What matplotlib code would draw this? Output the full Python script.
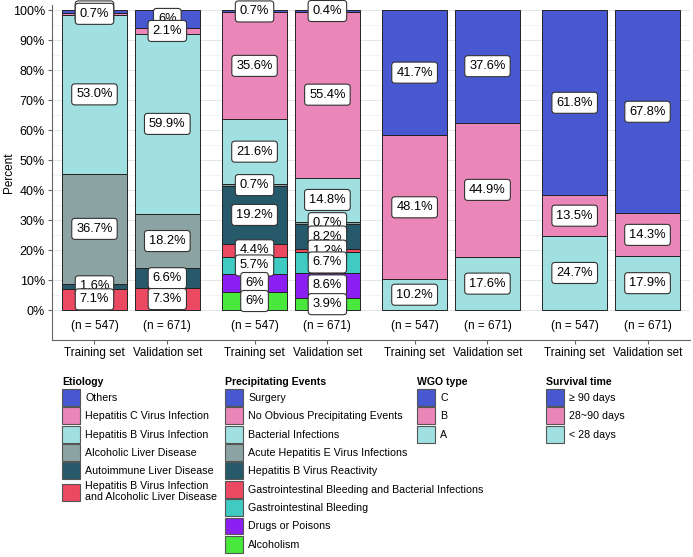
import matplotlib.pyplot as plt
from matplotlib.patches import Patch

plt.rcParams['font.family'] = ['Liberation Sans', 'DejaVu Sans']

sets = ["Training set", "Validation set"]
n_labels = ["(n = 547)", "(n = 671)"]

# stacks listed bottom -> top
etiology_cats = ["Hepatitis B Virus Infection\nand Alcoholic Liver Disease", "Autoimmune Liver Disease",
                 "Alcoholic Liver Disease", "Hepatitis B Virus Infection",
                 "Hepatitis C Virus Infection", "Others"]
etiology_train = [7.1, 1.6, 36.7, 53.0, 0.7, 0.9]
etiology_valid = [7.3, 6.6, 18.2, 59.9, 2.1, 5.9]
etiology_train_lbl = ["7.1%", "1.6%", "36.7%", "53.0%", "0.7%", "0.9%"]
etiology_valid_lbl = ["7.3%", "6.6%", "18.2%", "59.9%", "2.1%", "6%"]

precip_cats = ["Alcoholism", "Drugs or Poisons", "Gastrointestinal Bleeding",
               "Gastrointestinal Bleeding and Bacterial Infections", "Hepatitis B Virus Reactivity",
               "Acute Hepatitis E Virus Infections", "Bacterial Infections",
               "No Obvious Precipitating Events", "Surgery"]
precip_train = [6.0, 6.0, 5.7, 4.4, 19.2, 0.7, 21.6, 35.6, 0.7]
precip_valid = [3.9, 8.6, 6.7, 1.2, 8.2, 0.7, 14.8, 55.4, 0.4]
precip_train_lbl = ["6%", "6%", "5.7%", "4.4%", "19.2%", "0.7%", "21.6%", "35.6%", "0.7%"]
precip_valid_lbl = ["3.9%", "8.6%", "6.7%", "1.2%", "8.2%", "0.7%", "14.8%", "55.4%", "0.4%"]

wgo_cats = ["A", "B", "C"]
wgo_train = [10.2, 48.1, 41.7]
wgo_valid = [17.6, 44.9, 37.6]

surv_cats = ["< 28 days", "28~90 days", "\u2265 90 days"]
surv_train = [24.7, 13.5, 61.8]
surv_valid = [17.9, 14.3, 67.8]

BLUE = "#4858D0"
PINK = "#EA86B8"
LCYAN = "#A0E0E0"
GRAY = "#8CA3A3"
DTEAL = "#265A6B"
RED = "#EB4861"
TEAL = "#3FCAC2"
PURPLE = "#8B1EF0"
GREEN = "#48E83D"

etiology_cols = [RED, DTEAL, GRAY, LCYAN, PINK, BLUE]
precip_cols = [GREEN, PURPLE, TEAL, RED, DTEAL, GRAY, LCYAN, PINK, BLUE]
three_cols = [LCYAN, PINK, BLUE]


def pct(vals):
    return ["%.1f%%" % v for v in vals]


panels = [
    (etiology_cats, etiology_cols, [(etiology_train, etiology_train_lbl), (etiology_valid, etiology_valid_lbl)]),
    (precip_cats, precip_cols, [(precip_train, precip_train_lbl), (precip_valid, precip_valid_lbl)]),
    (wgo_cats, three_cols, [(wgo_train, pct(wgo_train)), (wgo_valid, pct(wgo_valid))]),
    (surv_cats, three_cols, [(surv_train, pct(surv_train)), (surv_valid, pct(surv_valid))]),
]

fig = plt.figure(figsize=(6.93, 5.57), dpi=100)
ax = fig.add_axes([52 / 693, 1 - 340 / 557, 638 / 693, 335 / 557])

bar_w = 1.0
xticks, xlabels = [], []
for gi, (cats, cols, bars) in enumerate(panels):
    for bi, (vals, lbls) in enumerate(bars):
        x = gi * 2.45 + bi * 1.115
        xticks.append(x)
        xlabels.append(sets[bi])
        bottom = 0
        mids = []
        for v, c in zip(vals, cols):
            ax.bar(x, v, bottom=bottom, width=bar_w, color=c, edgecolor="#222222", linewidth=0.7, zorder=2)
            mids.append(bottom + v / 2)
            bottom += v
        # draw from top to bottom so lower labels sit on top
        for m, t in list(zip(mids, lbls))[::-1]:
            ax.text(x, m, t, ha="center", va="center", fontsize=9.3, zorder=3,
                    bbox=dict(boxstyle="round,pad=0.35,rounding_size=0.25", fc="white", ec="#333333", lw=0.8))
        ax.text(x, -5.3, n_labels[bi], ha="center", va="center", fontsize=8.5)

ax.set_xlim(xticks[0] - 0.65, xticks[-1] + 0.65)
ax.set_ylim(-10, 101.7)
ax.set_yticks(range(0, 101, 10))
ax.set_yticklabels(["%d%%" % v for v in range(0, 101, 10)], fontsize=9)
ax.set_yticks(range(5, 100, 10), minor=True)
ax.set_xticks(xticks)
ax.set_xticklabels(xlabels, fontsize=8.4)
ax.set_ylabel("Percent", fontsize=8.5)
ax.yaxis.set_label_coords(-0.058, 0.5)
ax.grid(axis="y", which="major", color="#E0E6EA", lw=0.7, zorder=0)
ax.grid(axis="y", which="minor", color="#EBEFF2", lw=0.5, zorder=0)
ax.tick_params(axis="y", which="minor", length=0)
ax.tick_params(axis="both", which="major", color="#666666", length=3, pad=2)
for s in ["top", "right"]:
    ax.spines[s].set_visible(False)
for s in ["left", "bottom"]:
    ax.spines[s].set_color("#666666")

legend_specs = [
    ("Etiology", etiology_cats, etiology_cols, 55),
    ("Precipitating Events", precip_cats, precip_cols, 218),
    ("WGO type", wgo_cats, three_cols, 410),
    ("Survival time", surv_cats, three_cols, 539),
]
for title, cats, cols, xpx in legend_specs:
    handles = [Patch(facecolor=c, edgecolor="#555555", linewidth=0.8) for c in cols][::-1]
    leg = fig.legend(handles, cats[::-1], title=title, loc="upper left",
                     bbox_to_anchor=(xpx / 693, 1 - 370 / 557), frameon=False,
                     fontsize=7.7, title_fontproperties={"weight": "bold", "size": 7.6},
                     handlelength=1.6, handleheight=2.05, labelspacing=0.14,
                     handletextpad=0.55, borderpad=0.2, alignment="left")

fig.savefig("out.png", dpi=100)
